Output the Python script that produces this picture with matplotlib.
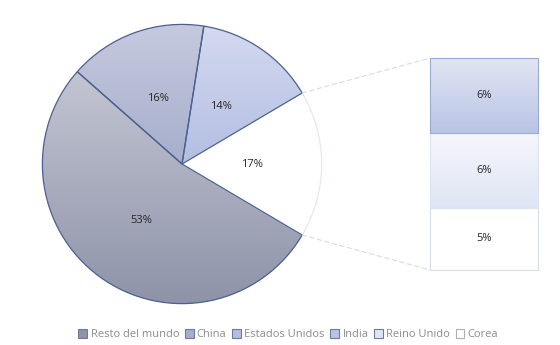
import numpy as np
import matplotlib.pyplot as plt
from matplotlib.colors import LinearSegmentedColormap
from matplotlib.patches import ConnectionPatch, Patch

plt.rcParams['font.family'] = ['Open Sans', 'DejaVu Sans']

# main pie: "otros" slice first, then counter-clockwise
pie_labels = ['Otros', 'Estados Unidos', 'China', 'Resto del mundo']
pie_vals = [17, 14, 16, 53]
# breakdown of the "otros" slice, stacked bottom -> top
bar_labels = ['Corea', 'Reino Unido', 'India']
bar_vals = [5, 6, 6]

legend_order = ['Resto del mundo', 'China', 'Estados Unidos', 'India', 'Reino Unido', 'Corea']

# (top colour, bottom colour) for the gradient fills
grad = {
    'Resto del mundo': ('#c3c5d2', '#8e93a8'),
    'China': ('#c6cadf', '#a6aecb'),
    'Estados Unidos': ('#d3d9ef', '#b3bee2'),
    'Otros': ('#ffffff', '#ffffff'),
    'India': ('#e2e6f3', '#b9c4e5'),
    'Reino Unido': ('#f6f7fc', '#dfe5f4'),
    'Corea': ('#ffffff', '#ffffff'),
}
edge = {'Resto del mundo': '#4a6190', 'China': '#4a6190', 'Estados Unidos': '#4a6190',
        'Otros': '#e4e8f0'}

fig = plt.figure(figsize=(5.6, 3.45), dpi=100)
fig.patch.set_facecolor('white')


def fill_gradient(ax, patch, c_top, c_bot):
    cmap = LinearSegmentedColormap.from_list('g', [c_bot, c_top])
    bb = patch.get_extents().transformed(ax.transData.inverted())
    g = np.linspace(0, 1, 256).reshape(-1, 1)
    im = ax.imshow(g, cmap=cmap, origin='lower', aspect='auto',
                   extent=[bb.x0, bb.x1, bb.y0, bb.y1], zorder=patch.get_zorder() - 0.1,
                   interpolation='bilinear')
    im.set_clip_path(patch)


# pie
ax_pie = fig.add_axes([0.0732, 0.1159, 0.5036, 0.8174])
start = -pie_vals[0] / 100 * 360 / 2
wedges, texts, autotexts = ax_pie.pie(pie_vals, startangle=start, counterclock=True,
                                      autopct='%.0f%%', pctdistance=0.5, radius=1,
                                      textprops=dict(fontsize=8, color='#262626'))
ax_pie.set_xlim(-1.01, 1.01)
ax_pie.set_ylim(-1.01, 1.01)
ax_pie.set_aspect('equal')
for w, name in zip(wedges, pie_labels):
    w.set_edgecolor(edge[name])
    w.set_linewidth(0.9)
    w.set_zorder(2)
    c_top, c_bot = grad[name]
    w.set_facecolor('none')
    fill_gradient(ax_pie, w, c_top, c_bot)
for t in autotexts:
    t.set_zorder(5)
ax_pie.axis('off')

# stacked bar for the "otros" breakdown
ax_bar = fig.add_axes([0.768, 0.2174, 0.193, 0.6145])
ax_bar.set_xlim(-0.5, 0.5)
ax_bar.set_ylim(0, sum(bar_vals))
bottom = 0
bar_edges = {'India': '#9aaad0', 'Reino Unido': '#dde3ee', 'Corea': '#d6dce8'}
for name, v in zip(bar_labels, bar_vals):
    r = ax_bar.bar(0, v, width=1, bottom=bottom, facecolor='none',
                   edgecolor=bar_edges[name], linewidth=0.8, zorder=2, clip_on=False)
    c_top, c_bot = grad[name]
    fill_gradient(ax_bar, r[0], c_top, c_bot)
    ax_bar.bar_label(r, labels=['%d%%' % v], label_type='center', fontsize=8,
                     color='#262626', zorder=5)
    bottom += v
ax_bar.axis('off')

# connector lines between the "otros" slice and the bar
a0 = np.deg2rad(start)
a1 = np.deg2rad(start + pie_vals[0] / 100 * 360)
for ang, yb in [(a1, sum(bar_vals)), (a0, 0)]:
    con = ConnectionPatch(xyA=(np.cos(ang), np.sin(ang)), coordsA=ax_pie.transData,
                          xyB=(-0.5, yb), coordsB=ax_bar.transData,
                          color='#d6dbe4', linestyle=(0, (4, 3)), linewidth=0.8)
    fig.add_artist(con)

# legend
handles = [Patch(facecolor=grad[n][1], edgecolor='#6f7b99' if n != 'Corea' else '#b0b0b0',
                 linewidth=0.8) for n in legend_order]
leg = fig.legend(handles, legend_order, loc='center', bbox_to_anchor=(0.515, 0.03),
                 ncol=6, frameon=False, fontsize=8, handlelength=0.8, handleheight=0.8,
                 handletextpad=0.3, columnspacing=0.5, borderaxespad=0)
for t in leg.get_texts():
    t.set_color('#8c8c8c')

fig.savefig('out.png', dpi=100, facecolor='white')
